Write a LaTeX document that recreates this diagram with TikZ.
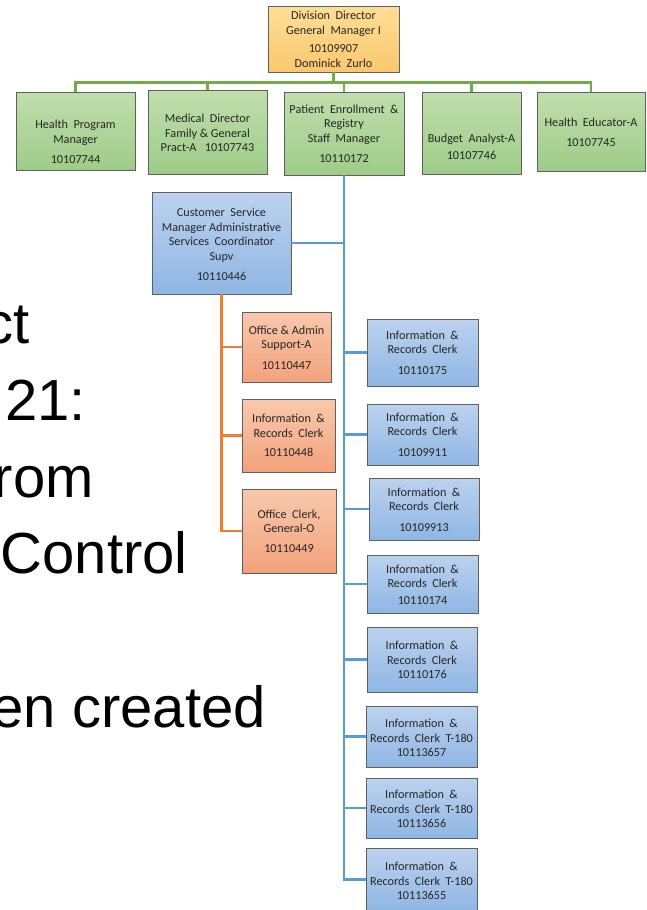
\documentclass[tikz,border=0pt]{standalone}
\usepackage{fontspec}
\setmainfont{Carlito}
\newfontfamily\bigfont{Liberation Sans}
\newcommand\boxfont{\fontsize{12.2}{14.5}\selectfont}
\definecolor{gline}{RGB}{112,173,71}
\definecolor{bline}{RGB}{91,155,213}
\definecolor{oline}{RGB}{237,125,49}
\definecolor{bordergray}{RGB}{95,95,95}
\definecolor{yTop}{RGB}{255,222,150}
\definecolor{yBot}{RGB}{250,200,110}
\definecolor{gTop}{RGB}{192,222,172}
\definecolor{gBot}{RGB}{158,204,136}
\definecolor{bTop}{RGB}{188,210,238}
\definecolor{bBot}{RGB}{143,182,228}
\definecolor{oTop}{RGB}{249,200,172}
\definecolor{oBot}{RGB}{243,162,124}
\tikzset{
  box/.style={draw=bordergray, line width=0.9pt, inner sep=0pt},
  ybox/.style={box, top color=yTop, bottom color=yBot},
  gbox/.style={box, top color=gTop, bottom color=gBot},
  bbox/.style={box, top color=bTop, bottom color=bBot},
  obox/.style={box, top color=oTop, bottom color=oBot},
  txt/.style={align=center, inner sep=0pt, font=\boxfont, text=black!85},
  glink/.style={line width=2.6pt, draw=gline},
  blink/.style={line width=2.6pt, draw=bline},
  olink/.style={line width=2.6pt, draw=oline},
  bigtxt/.style={anchor=base east, inner sep=0pt, font=\bigfont\fontsize{58}{70}\selectfont, text=black}
}
% #1 style, #2 name, #3 x1, #4 y1, #5 x2, #6 y2, #7 text shift, #8 text
\newcommand\orgbox[8][gbox]{%
  \node[#1, minimum width={#5-#3}, minimum height={#6-#4}] (#2) at ({(#3+#5)/2},{(#4+#6)/2}) {};
  \node[txt] (#2-t) at ({(#3+#5)/2},{(#4+#6)/2+#7}) {#8};
}
\begin{document}
\begin{tikzpicture}[x=1pt,y=-1pt]
\useasboundingbox (0,0) rectangle (646,910);
\fill[white] (0,0) rectangle (646,910);
\clip (0,0) rectangle (646,910);

% background slide text (cut at the left edge)
\node[bigtxt] (l1) at (30,343) {ct};
\node[bigtxt] (l2) at (86,420) {21:};
\node[bigtxt] (l3) at (94,497) {rom};
\node[bigtxt] (l4) at (188,573) {Control};
\node[bigtxt] (l5) at (266,727) {en created};

% top
\orgbox[ybox]{ceo}{268}{6}{399}{72}{0.5}{Division~~Director\\General~~Manager I\\[4pt]10109907\\Dominick~~Zurlo}

% second row
\orgbox[gbox]{hpm}{16}{92}{135}{170}{11}{Health~~Program\\Manager\\[6pt]10107744}
\orgbox[gbox]{md}{148}{90}{267}{174}{1}{Medical~~Director\\Family \& General\\Pract-A~~~10107743}
\orgbox[gbox]{pat}{284}{92}{404}{175}{0.5}{Patient~~Enrollment~~\&\\Registry\\Staff~~Manager\\[6pt]10110172}
\orgbox[gbox]{bud}{422}{92}{521}{174}{14}{Budget~~Analyst-A\\[2pt]10107746}
\orgbox[gbox]{he}{537}{92}{645}{171}{1}{Health~~Educator-A\\[5pt]10107745}

% customer service
\orgbox[bbox]{cs}{152}{192}{291}{294}{1.5}{Customer~~Service\\Manager Administrative\\Services~~Coordinator\\Supv\\[6pt]10110446}

% orange column
\orgbox[obox]{o1}{242}{312}{331}{382}{0.5}{Office \& Admin\\Support-A\\[6pt]10110447}
\orgbox[obox]{o2}{242}{399}{335}{472}{0}{Information~~\&\\Records~~Clerk\\[5pt]10110448}
\orgbox[obox]{o3}{242}{489}{336}{573}{0}{Office~~Clerk,\\General-O\\[5pt]10110449}

% blue column
\orgbox[bbox]{b1}{367}{319}{478}{386}{0}{Information~~\&\\Records~~Clerk\\[6pt]10110175}
\orgbox[bbox]{b2}{367}{404}{478}{465}{0}{Information~~\&\\Records~~Clerk\\[6pt]10109911}
\orgbox[bbox]{b3}{369}{478}{479}{540}{0.5}{Information~~\&\\Records~~Clerk\\[6pt]10109913}
\orgbox[bbox]{b4}{367}{555}{478}{613}{0.5}{Information~~\&\\Records~~Clerk\\[2pt]10110174}
\orgbox[bbox]{b5}{367}{627}{477}{692}{0.5}{Information~~\&\\Records~~Clerk\\10110176}
\orgbox[bbox]{b6}{366}{706}{477}{767}{1.5}{Information~~\&\\Records~~Clerk~~T-180\\10113657}
\orgbox[bbox]{b7}{366}{778}{477}{838}{1}{Information~~\&\\Records~~Clerk~~T-180\\10113656}
\orgbox[bbox]{b8}{366}{848}{477}{911}{1.5}{Information~~\&\\Records~~Clerk~~T-180\\10113655}

% green connectors
\foreach \n in {hpm,md,pat,bud,he}{
  \draw[glink] (ceo.south) -- ++(0,10) -| (\n.north);
}
% blue connectors
\draw[blink] (pat.south) |- (cs.east);
\foreach \n in {b1,b2,b3,b4,b5,b6,b7,b8}{
  \draw[blink] (pat.south) |- (\n.west);
}
% orange connectors
\foreach \n in {o1,o2,o3}{
  \draw[olink] (cs.south) |- (\n.west);
}
\end{tikzpicture}
\end{document}
